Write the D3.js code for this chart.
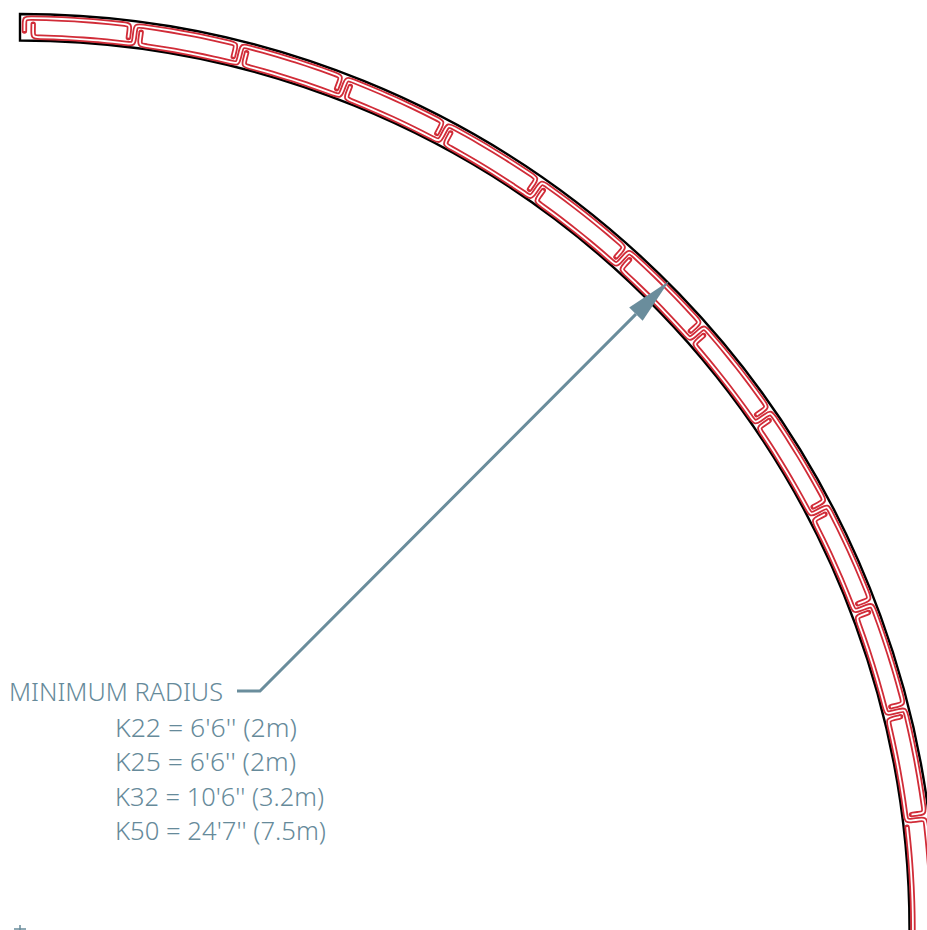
<!DOCTYPE html>
<html>
<head>
<meta charset="utf-8">
<script src="https://cdn.jsdelivr.net/npm/d3@7"></script>
<style>
  html, body { margin: 0; padding: 0; background: #fff; }
  svg { display: block; }
  text { font-family: "Noto Sans", sans-serif; font-weight: 300; fill: #668a9a; font-size: 26px; }
</style>
</head>
<body>
<svg id="chart" width="927" height="930"></svg>
<script>
// link joints along the bend, degrees clockwise from the top
const jointAngles = [7.3, 14.1, 21.0, 28.0, 34.9, 41.9, 48.6, 55.4, 62.3, 69.1, 76.0, 83.0];
const bendEnd = 92;
const minRadiusAngle = 45;

const labelTitle = 'MINIMUM RADIUS';
const radiusLabels = ["K22 = 6'6'' (2m)", "K25 = 6'6'' (2m)", "K32 = 10'6'' (3.2m)", "K50 = 24'7'' (7.5m)"];
const labelWidths = [182, 181, 209, 211];

//SETUP
const svg = d3.select('#chart');
const cx = 20, cy = 930;
const rOuter = 916, rInner = 889.5;
const rTop = 912, rBot = 893;
const gap = 6, corner = 6;
const blue = '#6a8d9c', red = '#d12c38';

const angle = d3.scaleLinear().domain([0, 90]).range([0, Math.PI / 2]);
const toXY = (deg, r) => [cx + r * Math.sin(angle(deg)), cy - r * Math.cos(angle(deg))];
const pxToDeg = (px, r) => angle.invert(px / r);

const g = svg.append('g').attr('transform', `translate(${cx},${cy})`);

//OUTLINE
g.append('path')
  .attr('d', d3.arc()({ innerRadius: rInner, outerRadius: rOuter, startAngle: 0, endAngle: angle(bendEnd) }))
  .attr('fill', 'none')
  .attr('stroke', '#000')
  .attr('stroke-width', 2.4);

//STRIPS
const line = d3.lineRadial()
  .angle((d) => angle(d[0]))
  .radius((d) => d[1])
  .curve(d3.curveBasis);

// run along a constant radius from a to b, control points every degree or so
function run(a, b, r) {
  const n = Math.max(1, Math.ceil(Math.abs(b - a)));
  return d3.range(n + 1).map((i) => [a + ((b - a) * i) / n, r]);
}

// one strip: free end -> down -> bottom of link -> up through joint -> top of next link -> free end
function strip(leftJoint, midJoint, rightJoint) {
  const pts = [];
  const dBot = pxToDeg(gap, rBot), dTop = pxToDeg(gap, rTop);
  const cBot = pxToDeg(corner, rBot), cTop = pxToDeg(corner, rTop);
  if (midJoint !== null) {
    const a0 = leftJoint + dBot;
    pts.push([a0, rTop - gap], [a0, rTop - gap], [a0, rTop - gap], [a0, rBot + corner], [a0, rBot]);
    pts.push(...run(a0 + cBot, midJoint - cBot, rBot));
    pts.push([midJoint, rBot], [midJoint, rBot + corner], [midJoint, rTop - corner], [midJoint, rTop]);
  } else {
    const a0 = pxToDeg(4.5, rTop);
    pts.push([a0, rBot + gap], [a0, rBot + gap], [a0, rBot + gap], [a0, rTop - corner], [a0, rTop]);
  }
  const start = midJoint !== null ? midJoint : pxToDeg(4.5, rTop);
  if (rightJoint !== null) {
    const a1 = rightJoint - dTop;
    pts.push(...run(start + cTop, a1 - cTop, rTop));
    pts.push([a1, rTop], [a1, rTop - corner], [a1, rBot + gap], [a1, rBot + gap], [a1, rBot + gap]);
  } else {
    pts.push(...run(start + cTop, bendEnd, rTop));
  }
  return pts;
}

const strips = [strip(0, null, jointAngles[0])];
const firstLeft = pxToDeg(8, rBot) - pxToDeg(gap, rBot) + pxToDeg(5, rBot);
jointAngles.forEach((j, i) => {
  const left = i === 0 ? firstLeft : jointAngles[i - 1];
  const right = i + 1 < jointAngles.length ? jointAngles[i + 1] : null;
  strips.push(strip(left, j, right));
});
// last link bottom runs off the page
strips.push(run(jointAngles[jointAngles.length - 1] + pxToDeg(gap, rBot), bendEnd, rBot));

const groups = g.selectAll('.strip').data(strips).enter().append('g').classed('strip', true);
groups.append('path')
  .attr('d', line)
  .attr('fill', 'none')
  .attr('stroke', red)
  .attr('stroke-width', 5.4)
  .attr('stroke-linecap', 'round')
  .attr('stroke-linejoin', 'round');
groups.append('path')
  .attr('d', line)
  .attr('fill', 'none')
  .attr('stroke', '#fff')
  .attr('stroke-width', 1.8);

//ANNOTATION
const tip = toXY(minRadiusAngle, 918);
const elbow = [260, 691];
const dir = Math.atan2(tip[1] - elbow[1], tip[0] - elbow[0]);
const headLen = 47, headHalf = 9.5;
const base = [tip[0] - headLen * Math.cos(dir), tip[1] - headLen * Math.sin(dir)];

svg.append('path')
  .attr('d', d3.line()([[237, 691], elbow, base]))
  .attr('fill', 'none')
  .attr('stroke', blue)
  .attr('stroke-width', 3);

svg.append('path')
  .attr('d', d3.line()([
    tip,
    [base[0] + headHalf * Math.sin(dir), base[1] - headHalf * Math.cos(dir)],
    [base[0] - headHalf * Math.sin(dir), base[1] + headHalf * Math.cos(dir)],
  ]) + 'Z')
  .attr('fill', blue);

svg.append('text')
  .attr('x', 9)
  .attr('y', 701)
  .attr('textLength', 214)
  .attr('lengthAdjust', 'spacingAndGlyphs')
  .text(labelTitle);

const baselines = d3.scalePoint().domain(radiusLabels).range([737, 840]);
svg.selectAll('.radius')
  .data(radiusLabels)
  .enter()
  .append('text')
  .classed('radius', true)
  .attr('x', 115)
  .attr('y', (d) => baselines(d))
  .attr('textLength', (d, i) => labelWidths[i])
  .attr('lengthAdjust', 'spacingAndGlyphs')
  .text((d) => d);

//CENTRE MARK
svg.append('path')
  .attr('d', `M${cx},${cy - 5}V${cy}M${cx - 6},${cy - 1}H${cx + 6}`)
  .attr('fill', 'none')
  .attr('stroke', blue)
  .attr('stroke-width', 1.5);
</script>
</body>
</html>
